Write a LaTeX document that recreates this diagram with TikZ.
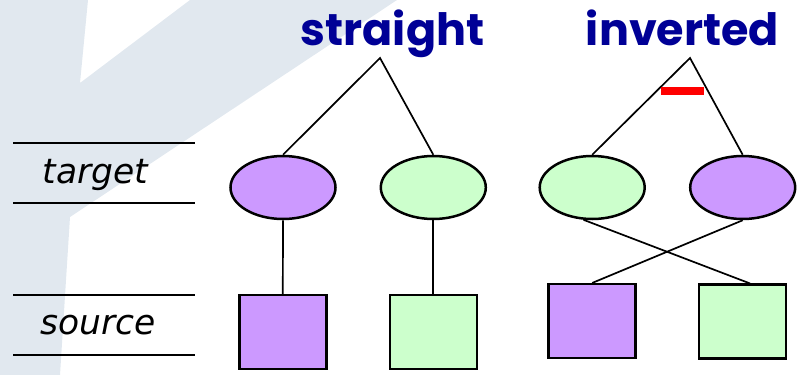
\documentclass[tikz,border=0pt]{standalone}
\usepackage{fontspec}
\usetikzlibrary{shapes.geometric,calc}
\newfontfamily\titlefont{Poppins}
\newfontfamily\labelfont{DejaVu Sans}
\definecolor{bgblue}{RGB}{225,232,239}
\definecolor{lilac}{RGB}{204,153,255}
\definecolor{mint}{RGB}{204,255,204}
\definecolor{navy}{RGB}{0,0,150}
\begin{document}
\begin{tikzpicture}[x=1pt,y=-1pt,
  tgt/.style={ellipse,draw=black,line width=2.5pt,minimum width=105pt,minimum height=63pt,inner sep=0pt},
  src/.style={rectangle,draw=black,line width=2.5pt,minimum width=87pt,minimum height=74pt,inner sep=0pt},
  conn/.style={draw=black,line width=1.7pt},
  rule/.style={draw=black,line width=2.2pt},
  title/.style={font=\titlefont\bfseries\fontsize{44.5}{48}\selectfont,text=navy,anchor=base,inner sep=0pt},
  lbl/.style={font=\labelfont\itshape\fontsize{34.5}{38}\selectfont,anchor=base,inner sep=0pt}]
\useasboundingbox (0,0) rectangle (804,375);
\fill[bgblue] (0,0) -- (88,0) -- (80,83) -- (190,0) -- (397,0) -- (70,217) -- (60,375) -- (0,375) -- cycle;
% left rules and labels
\draw[rule] (13,143) -- (195,143);
\draw[rule] (13,203) -- (195,203);
\draw[rule] (13,295) -- (195,295);
\draw[rule] (13,355) -- (195,355);
\node[lbl] (ltarget) at (95.5,183) {target};
\node[lbl] (lsource) at (98,334) {source};
% titles
\node[title] (tstraight) at (392.5,45) {straight};
\node[title] (tinverted) at (682.5,45) {inverted};
\coordinate (a1) at (380,58);
\coordinate (a2) at (690,58);
% targets
\node[tgt,fill=lilac] (e1) at (283,187.5) {};
\node[tgt,fill=mint] (e2) at (433.3,187.5) {};
\node[tgt,fill=mint] (e3) at (592.2,187.5) {};
\node[tgt,fill=lilac] (e4) at (742.7,187.5) {};
% sources
\node[src,fill=lilac] (s1) at (282.8,332) {};
\node[src,fill=mint] (s2) at (433.3,332.2) {};
\node[src,fill=lilac] (s3) at (592.2,321.2) {};
\node[src,fill=mint] (s4) at (742.5,321.7) {};
% connectors
\draw[conn] (e1.north) -- (a1) -- (e2.north);
\draw[conn] (e3.north) -- (a2) -- (e4.north);
\draw[conn] (e1.south) -- (s1.north);
\draw[conn] (e2.south) -- (s2.north);
\draw[conn] (e3.255) -- ($(s4.north)+(7.5,0)$);
\draw[conn] (e4.south) -- (s3.north);
% red bar
\node[fill=red,minimum width=43pt,minimum height=8pt,inner sep=0pt] (bar) at (682.5,91) {};
\end{tikzpicture}
\end{document}
